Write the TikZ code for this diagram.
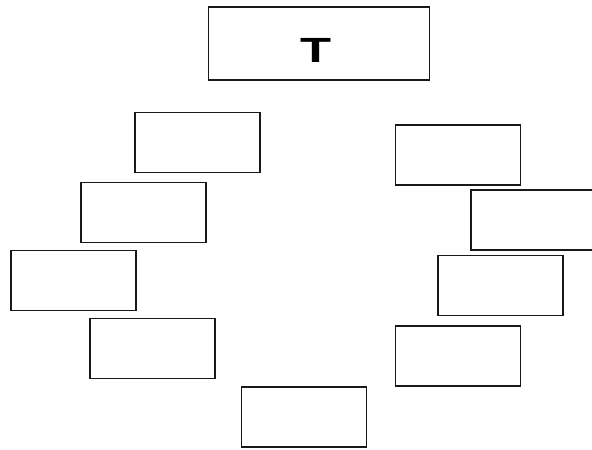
\documentclass[tikz,border=0pt]{standalone}
\usepackage{fontspec}
\setmainfont{Liberation Sans}
\begin{document}
\begin{tikzpicture}[x=1pt,y=-1pt,
  box/.style={draw=black!90,line width=1.8pt,minimum width=125pt,minimum height=60pt,inner sep=0pt,outer sep=0pt},
  bigbox/.style={box,minimum width=221pt,minimum height=73pt}]
\fill[white] (0,0) rectangle (592,450);
\useasboundingbox (0,0) rectangle (592,450);
\clip (0,0) rectangle (592,450);
\node[bigbox] (top) at (319,43.5) {};
\node[font=\bfseries\fontsize{35}{35}\selectfont,xscale=1.45] (t) at (316,50) {T};
\node[box] (l1) at (197.5,142.5) {};
\node[box] (l2) at (143.5,212.5) {};
\node[box] (l3) at (73.5,280.5) {};
\node[box] (l4) at (152.5,348.5) {};
\node[box] (b) at (304,417) {};
\node[box] (r1) at (458,155) {};
\node[box] (r2) at (533.5,220) {};
\node[box] (r3) at (500.5,285.5) {};
\node[box] (r4) at (458,356) {};
\end{tikzpicture}
\end{document}
